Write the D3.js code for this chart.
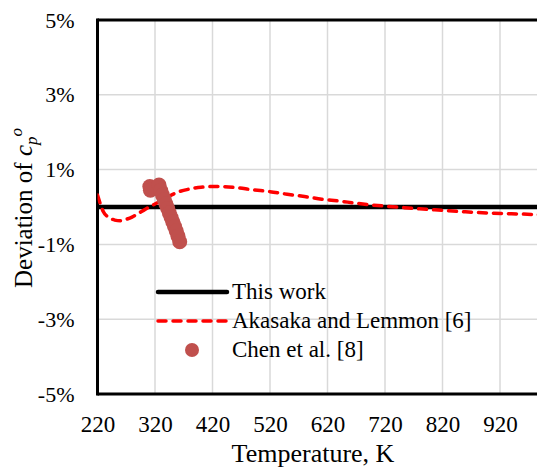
<!DOCTYPE html>
<html>
<head>
<meta charset="utf-8">
<script src="https://cdn.jsdelivr.net/npm/d3@7"></script>
<style>
  html, body { margin: 0; padding: 0; background: #fff; }
  svg { display: block; font-family: "Liberation Serif", "Times New Roman", serif; }
</style>
</head>
<body>
<div id="chart"></div>
<script>
// Deviation of ideal-gas heat capacity relative to this work, %
const xTicks = [220, 320, 420, 520, 620, 720, 820, 920];
const yTicks = [-5, -3, -1, 1, 3, 5];
const xDomain = [220, 1020];
const yDomain = [-5, 5];

// This work (reference line)
const thisWorkT = [220, 1020];
const thisWorkDev = [0, 0];

// Akasaka and Lemmon [6]
const akasakaT = [220, 225, 230, 240, 250, 260, 270, 280, 290, 300, 310, 320, 330, 340, 350, 360, 380, 400, 430, 460, 490, 520, 550, 580, 610, 640, 670, 700, 740, 780, 820, 860, 900, 940, 980, 1020];
const akasakaDev = [0.32, 0.08, -0.12, -0.28, -0.35, -0.37, -0.33, -0.27, -0.18, -0.09, 0.0, 0.08, 0.16, 0.25, 0.33, 0.40, 0.48, 0.53, 0.55, 0.52, 0.46, 0.41, 0.34, 0.28, 0.21, 0.16, 0.10, 0.05, 0.0, -0.05, -0.09, -0.13, -0.16, -0.18, -0.20, -0.22];

// Chen et al. [8]
const chenT = [311, 312, 327, 330, 333, 336, 339, 342, 345, 348, 351, 354, 357, 360, 363];
const chenDev = [0.55, 0.45, 0.59, 0.44, 0.32, 0.20, 0.08, -0.04, -0.16, -0.28, -0.40, -0.52, -0.64, -0.78, -0.93];

const legendLabels = ["This work", "Akasaka and Lemmon [6]", "Chen et al. [8]"];

const W = 537, H = 468;
const plot = { left: 97.5, right: 557.5, top: 20, bottom: 394 };
const FONT = '"Liberation Serif", "Times New Roman", serif';

const svg = d3.select("#chart").append("svg")
  .attr("width", W).attr("height", H);

const x = d3.scaleLinear().domain(xDomain).range([plot.left, plot.right]);
const y = d3.scaleLinear().domain(yDomain).range([plot.bottom, plot.top]);

svg.append("defs").append("clipPath").attr("id", "plotClip")
  .append("rect")
  .attr("x", plot.left).attr("y", plot.top)
  .attr("width", plot.right - plot.left).attr("height", plot.bottom - plot.top);

// Gridlines
const grid = svg.append("g").attr("class", "grid");
grid.selectAll("line.v").data(xTicks.slice(1).concat([1020])).join("line")
  .attr("class", "v")
  .attr("x1", d => x(d)).attr("x2", d => x(d))
  .attr("y1", plot.top).attr("y2", plot.bottom)
  .attr("stroke", "#d9d9d9").attr("stroke-width", 1.5);
grid.selectAll("line.h").data(yTicks.slice(1, -1)).join("line")
  .attr("class", "h")
  .attr("x1", plot.left).attr("x2", plot.right)
  .attr("y1", d => y(d)).attr("y2", d => y(d))
  .attr("stroke", "#d9d9d9").attr("stroke-width", 1.5);

// Axes (labels only; frame drawn separately)
const xAxis = svg.append("g")
  .attr("transform", `translate(0,${plot.bottom})`)
  .call(d3.axisBottom(x).tickValues(xTicks).tickSize(0).tickPadding(22).tickFormat(d3.format("d")));
xAxis.attr("font-family", FONT);
xAxis.select(".domain").remove();
xAxis.selectAll("text").attr("font-size", 23).attr("fill", "#000");

const yAxis = svg.append("g")
  .attr("transform", `translate(${plot.left},0)`)
  .call(d3.axisLeft(y).tickValues(yTicks).tickSize(0).tickPadding(23).tickFormat(d => d + "%"));
yAxis.attr("font-family", FONT);
yAxis.select(".domain").remove();
yAxis.selectAll("text").attr("font-size", 22).attr("fill", "#000");

// Frame: top, left, bottom
const frame = svg.append("g");
frame.append("line").attr("x1", plot.left).attr("x2", plot.right)
  .attr("y1", plot.top).attr("y2", plot.top)
  .attr("stroke", "#000").attr("stroke-width", 3);
frame.append("line").attr("x1", plot.left).attr("x2", plot.right)
  .attr("y1", plot.bottom).attr("y2", plot.bottom)
  .attr("stroke", "#000").attr("stroke-width", 3);
frame.append("line").attr("x1", plot.left).attr("x2", plot.left)
  .attr("y1", plot.top - 1.5).attr("y2", plot.bottom + 1.5)
  .attr("stroke", "#000").attr("stroke-width", 3);

const series = svg.append("g").attr("clip-path", "url(#plotClip)");

// This work
const lineGen = d3.line().x(d => x(d[0])).y(d => y(d[1]));
series.append("path")
  .datum(thisWorkT.map((t, i) => [t, thisWorkDev[i]]))
  .attr("d", lineGen)
  .attr("fill", "none").attr("stroke", "#000").attr("stroke-width", 4.5);

// Akasaka and Lemmon
series.append("path")
  .datum(akasakaT.map((t, i) => [t, akasakaDev[i]]))
  .attr("d", lineGen.curve(d3.curveMonotoneX))
  .attr("fill", "none").attr("stroke", "#ff0000").attr("stroke-width", 3.5)
  .attr("stroke-dasharray", "8,7").attr("stroke-linecap", "round");

// Chen et al.
svg.append("g").selectAll("circle")
  .data(chenT.map((t, i) => [t, chenDev[i]]))
  .join("circle")
  .attr("cx", d => x(d[0])).attr("cy", d => y(d[1]))
  .attr("r", 7.5).attr("fill", "#c0504d");

// Legend
const legend = svg.append("g").attr("transform", "translate(158,292)");
const rowH = 29;
legend.append("line").attr("x1", 0).attr("x2", 69).attr("y1", 0).attr("y2", 0)
  .attr("stroke", "#000").attr("stroke-width", 4.5).attr("stroke-linecap", "round");
legend.append("line").attr("x1", 0).attr("x2", 69).attr("y1", rowH).attr("y2", rowH)
  .attr("stroke", "#ff0000").attr("stroke-width", 3.5)
  .attr("stroke-dasharray", "8,7").attr("stroke-linecap", "round");
legend.append("circle").attr("cx", 34).attr("cy", 2 * rowH).attr("r", 7).attr("fill", "#c0504d");
legend.selectAll("text").data(legendLabels).join("text")
  .attr("x", 74).attr("y", (d, i) => i * rowH + 7)
  .attr("font-size", 23).attr("fill", "#000")
  .text(d => d);

// Axis titles
svg.append("text")
  .attr("x", 313).attr("y", 462)
  .attr("text-anchor", "middle").attr("font-size", 26).attr("fill", "#000")
  .text("Temperature, K");

const yTitle = svg.append("text")
  .attr("transform", "translate(32,208) rotate(-90)")
  .attr("text-anchor", "middle").attr("font-size", 25).attr("fill", "#000");
yTitle.append("tspan").text("Deviation of ");
yTitle.append("tspan").attr("font-style", "italic").text("c");
yTitle.append("tspan").attr("font-style", "italic").attr("font-size", 17).attr("dy", 5).text("p");
yTitle.append("tspan").attr("font-style", "italic").attr("font-size", 17).attr("dy", -15).text("o");
</script>
</body>
</html>
